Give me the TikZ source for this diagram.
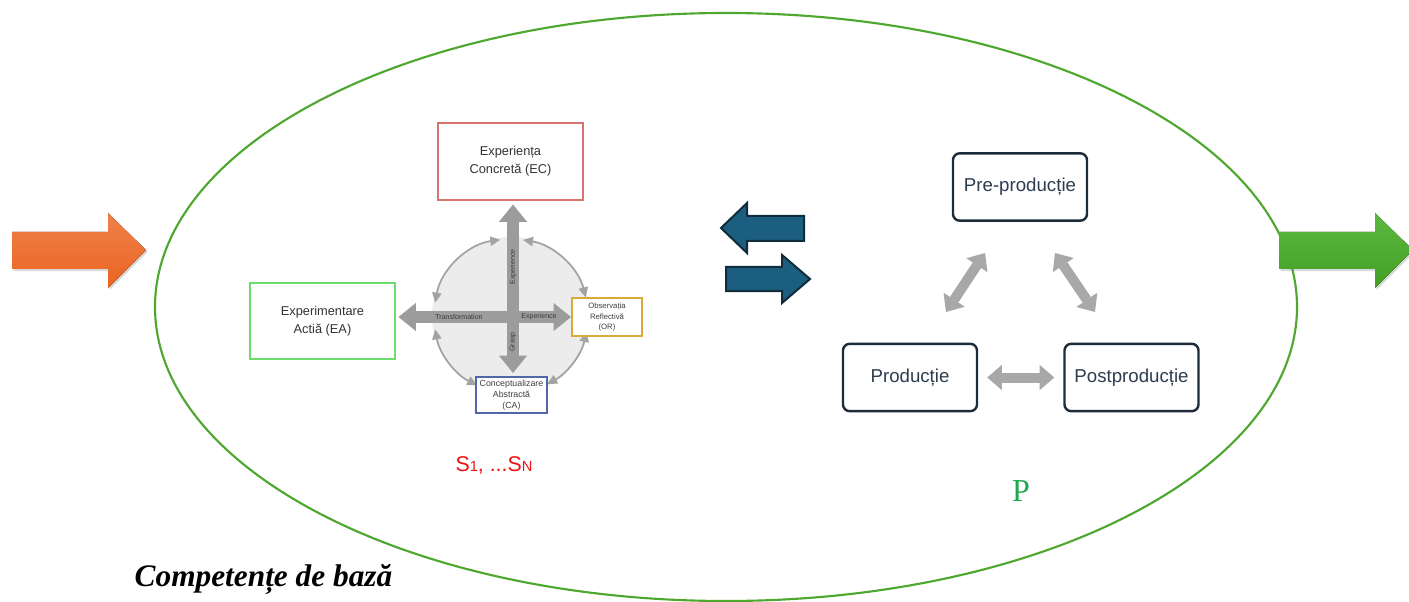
\documentclass[tikz,border=0pt]{standalone}
\usepackage{fontspec}
\setmainfont{Liberation Sans}
\setsansfont{Liberation Sans}
\newfontfamily\titleserif{Liberation Serif}
\usetikzlibrary{arrows.meta,shadows,calc}

\definecolor{ringgreen}{HTML}{4EA72E}
\definecolor{ecred}{HTML}{D9736E}
\definecolor{eagreen}{HTML}{6EDC6A}
\definecolor{orgold}{HTML}{DBA83A}
\definecolor{cablue}{HTML}{5067A8}
\definecolor{discgrey}{HTML}{ECECEC}
\definecolor{crossgrey}{HTML}{9C9C9C}
\definecolor{arcgrey}{HTML}{A3A3A3}
\definecolor{labelgrey}{HTML}{3A3A3A}
\definecolor{navyline}{HTML}{1E2B3B}
\definecolor{navytext}{HTML}{2D3D4F}
\definecolor{cyclegrey}{HTML}{A8A8A8}
\definecolor{swapfill}{HTML}{1B5E80}
\definecolor{swapline}{HTML}{0E2C3C}
\definecolor{sred}{HTML}{EE1111}
\definecolor{pgreen}{HTML}{1FA84F}
\definecolor{intop}{HTML}{F0814A}
\definecolor{inbottom}{HTML}{EA6422}
\definecolor{outtop}{HTML}{5CB83E}
\definecolor{outbottom}{HTML}{43A027}

\tikzset{
  ring/.style={draw=ringgreen, line width=1.6pt},
  kolbbox/.style={draw, fill=white, align=center, inner sep=0pt},
  kolbtext/.style={font=\sffamily\fontsize{9.6}{13.5}\selectfont, text=black!80},
  smalltext/.style={font=\sffamily\fontsize{5.8}{7.8}\selectfont, text=black!75},
  crossarrow/.style={draw=crossgrey, line width=9pt,
    {Triangle[length=13pt,width=21pt,line width=0pt]}-{Triangle[length=13pt,width=21pt,line width=0pt]}},
  crosslabel/.style={font=\sffamily\fontsize{5.3}{6}\selectfont, text=labelgrey, inner sep=0pt},
  kolbarc/.style={draw=arcgrey, line width=1.3pt,
    {Triangle[length=7.5pt,width=7pt]}-{Triangle[length=7.5pt,width=7pt]}},
  stagebox/.style={draw=navyline, line width=1.8pt, rounded corners=5pt, fill=white,
    text=navytext, font=\sffamily\fontsize{14}{16}\selectfont,
    minimum width=100.5pt, minimum height=50.5pt, inner sep=0pt},
  cyclearrow/.style={draw=cyclegrey, line width=7.5pt,
    {Triangle[length=11pt,width=19pt,line width=0pt]}-{Triangle[length=11pt,width=19pt,line width=0pt]}},
  swaparrow/.style={fill=swapfill, draw=swapline, line width=1.5pt, line join=miter},
  flowshadow/.style={drop shadow={shadow xshift=1.2pt, shadow yshift=-1.5pt, opacity=0.3}}
}

\begin{document}
\begin{tikzpicture}[x=0.75pt, y=-0.75pt, font=\sffamily]
\useasboundingbox (0,0) rectangle (1409,602);

% enclosing ellipse, cut by the page edge
\begin{scope}
  \clip (0,0) rectangle (1409,602);
  \draw[ring] (726,307) ellipse [x radius=571, y radius=294];
\end{scope}

% incoming and outgoing block arrows
\fill[flowshadow, top color=intop, bottom color=inbottom]
  (12,232) -- (108,232) -- (108,213) -- (146,250) -- (108,288) -- (108,269) -- (12,269) -- cycle;
\fill[flowshadow, top color=outtop, bottom color=outbottom]
  (1279,232) -- (1375,232) -- (1375,213) -- (1413,250) -- (1375,288) -- (1375,269) -- (1279,269) -- cycle;

% Kolb cycle: background disc
\fill[discgrey] (511,316) circle [radius=79];

% curved arrows around the disc
\begin{scope}[shift={(511,316)}, x=0.75pt, y=0.75pt]
  \draw[kolbarc] (98:77) arc[start angle=98, end angle=170, radius=77];
  \draw[kolbarc] (81:77) arc[start angle=81, end angle=14, radius=77];
  \draw[kolbarc] (-12:77) arc[start angle=-12, end angle=-62, radius=77];
  \draw[kolbarc] (190:77) arc[start angle=190, end angle=244, radius=77];
\end{scope}

% Kolb stages
\node[kolbbox, kolbtext, draw=ecred, line width=2.2pt, minimum width=108.75pt, minimum height=57.75pt]
  (ec) at (510.5,161.5) {Experiența\\Concretă (EC)};
\node[kolbbox, kolbtext, draw=eagreen, line width=2.2pt, minimum width=108.75pt, minimum height=57pt]
  (ea) at (322.5,321) {Experimentare\\Actiă (EA)};
\node[kolbbox, smalltext, draw=orgold, line width=1.5pt, minimum width=52.5pt, minimum height=28.5pt]
  (or) at (607,317) {Observația\\Reflectivă\\(OR)};
\node[kolbbox, font=\sffamily\fontsize{6.6}{8.2}\selectfont, text=black!75, draw=cablue, line width=1.5pt,
  minimum width=53.25pt, minimum height=27pt]
  (ca) at (511.5,395) {Conceptualizare\\Abstractă\\(CA)};

% Kolb axes
\draw[crossarrow] ($(ec.south)+(2.5,3)$) -- ($(ca.north)+(1.5,-3)$);
\draw[crossarrow] ($(ea.east)+(2,-4)$) -- ($(or.west)+(0,0)$);

\node[crosslabel, rotate=90] (lexp) at (513,267) {Experience};
\node[crosslabel, rotate=90] (lgrasp) at (513,342) {Grasp};
\node[crosslabel] (ltrans) at (459,317) {Transformation};
\node[crosslabel] (lexp2) at (539,317) {Experience};

\node[text=sred, font=\sffamily\fontsize{16}{19}\selectfont] (slabel) at (494,465)
  {S{\fontsize{11}{12}\selectfont 1}, ...S{\fontsize{11}{12}\selectfont N}};

% exchange arrows between the two cycles
\path[swaparrow]
  (721,228) -- (747,203) -- (747,216) -- (804,216) -- (804,241) -- (747,241) -- (747,253) -- cycle;
\path[swaparrow]
  (726,267) -- (782,267) -- (782,255) -- (810,279) -- (782,303) -- (782,291) -- (726,291) -- cycle;

% production cycle
\node[stagebox] (pre) at (1020,187) {Pre-producție};
\node[stagebox] (prod) at (910,377.5) {Producție};
\node[stagebox] (post) at (1131.5,377.5) {Postproducție};

\coordinate (c1) at (946,312);
\coordinate (c2) at (985,253);
\coordinate (c3) at (1055,253);
\coordinate (c4) at (1095,312);
\draw[cyclearrow] (c1) -- (c2);
\draw[cyclearrow] (c3) -- (c4);
\draw[cyclearrow] ($(prod.east)+(9,0)$) -- ($(post.west)+(-9,0)$);

\node[text=pgreen, font=\titleserif\fontsize{24}{28}\selectfont] (plabel) at (1021,491) {P};

\node[anchor=base, font=\titleserif\bfseries\itshape\fontsize{23.5}{28}\selectfont] (title)
  at (263.5,586) {Competențe de bază};
\end{tikzpicture}
\end{document}
